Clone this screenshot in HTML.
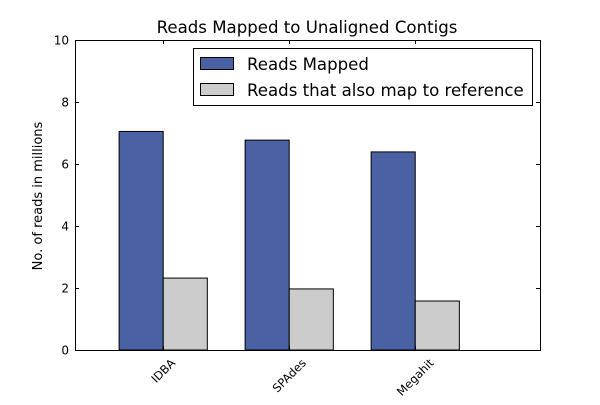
<!DOCTYPE html>
<html><head><meta charset="utf-8"><style>
body{margin:0;background:#fff}
text{font-family:"DejaVu Sans","Liberation Sans",sans-serif}
</style></head><body>
<svg id="c" width="600" height="400" xmlns="http://www.w3.org/2000/svg">
<rect width="600" height="400" fill="#fff"/>
<text x="307" y="33" font-size="16.6" text-anchor="middle">Reads Mapped to Unaligned Contigs</text>
<text transform="translate(42,196) rotate(-90)" font-size="13" text-anchor="middle">No. of reads in millions</text>
<g id="bars"></g>
<g id="ticks"></g>
<rect x="75.5" y="40.5" width="465" height="310" fill="none" stroke="#000" stroke-width="1"/>
<g>
<rect x="193.5" y="48.5" width="339" height="57" fill="#fff" stroke="#000"/>
<rect x="200.5" y="57.5" width="33" height="12" fill="#4a62a3" stroke="#000"/>
<text x="247" y="70" font-size="16.6">Reads Mapped</text>
<rect x="200.5" y="83.5" width="33" height="12" fill="#cccccc" stroke="#000"/>
<text x="247" y="96" font-size="16.6">Reads that also map to reference</text>
</g>
</svg>
<script>
const categories=["IDBA","SPAdes","Megahit"];
const readsMapped=[7.05,6.77,6.39];
const readsReference=[2.32,1.97,1.58];
const yTicks=[0,2,4,6,8,10];
const NS="http://www.w3.org/2000/svg";
const X0=75,X1=540,Y0=350,Y1=40;
const xmin=-0.35,xmax=3.34,W=0.35;
const xs=v=>X0+(v-xmin)/(xmax-xmin)*(X1-X0);
const ys=v=>Y0-(v/10)*(Y0-Y1);
const bars=document.getElementById('bars'),ticks=document.getElementById('ticks');
function mk(t,a,p){const e=document.createElementNS(NS,t);for(const k in a)e.setAttribute(k,a[k]);p.appendChild(e);return e;}
categories.forEach((c,i)=>{
  const b1=mk('rect',{x:xs(i),y:ys(readsMapped[i]),width:xs(i+W)-xs(i),height:ys(0)-ys(readsMapped[i]),fill:'#4a62a3',stroke:'#000'},bars);
  
  
  const b2=mk('rect',{x:xs(i+W),y:ys(readsReference[i]),width:xs(i+2*W)-xs(i+W),height:ys(0)-ys(readsReference[i]),fill:'#cccccc',stroke:'#000'},bars);
  
  
  const tx=Math.round(xs(i+W))+0.5;
  mk('line',{x1:tx,x2:tx,y1:350,y2:346,stroke:'#000'},ticks);
  mk('line',{x1:tx,x2:tx,y1:40,y2:44,stroke:'#000'},ticks);
  const t=mk('text',{x:0,y:0,'font-size':'11.5','text-anchor':'middle','dominant-baseline':'central'},ticks);
  t.textContent=c;
  
  
  const L=t.getComputedTextLength();
  const cy=357+(L+11)*0.3536;
  t.setAttribute('transform',`translate(${xs(i+W)},${cy}) rotate(-45)`);
});
yTicks.forEach(v=>{
  const y=Math.round(ys(v))+0.5;
  mk('line',{x1:75,x2:79,y1:y,y2:y,stroke:'#000'},ticks);
  mk('line',{x1:540,x2:536,y1:y,y2:y,stroke:'#000'},ticks);
  const t=mk('text',{x:69,y:ys(v)+4.5,'font-size':'12','text-anchor':'end'},ticks);
  t.textContent=v;
  
  
});
</script>
</body></html>
